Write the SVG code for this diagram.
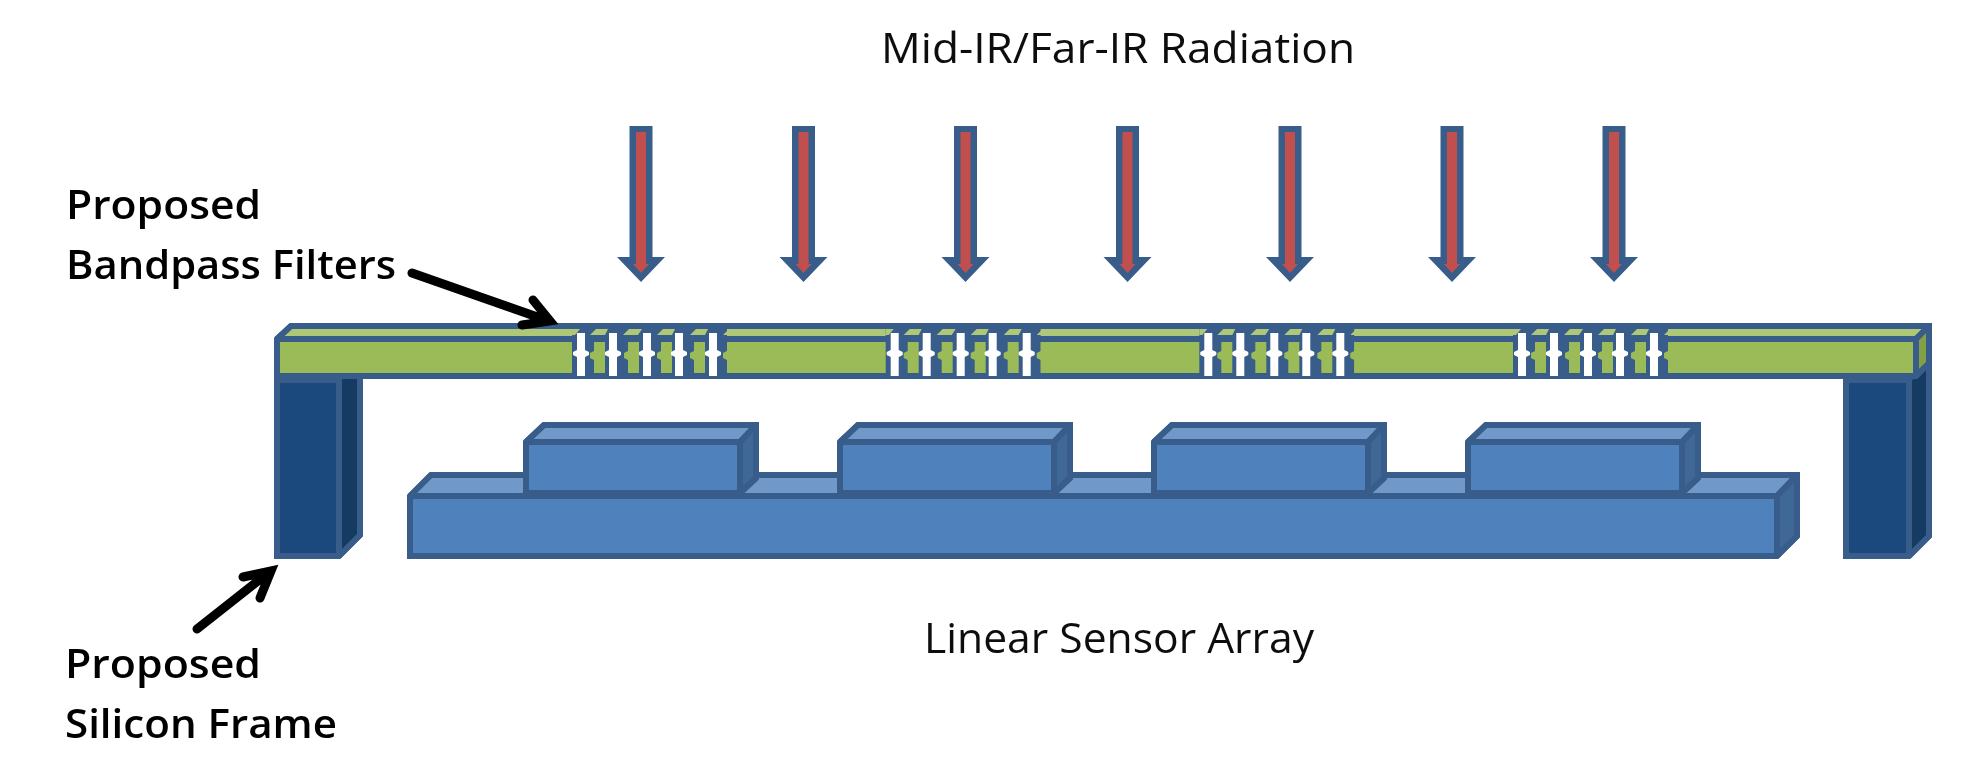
<svg xmlns="http://www.w3.org/2000/svg" xmlns:xlink="http://www.w3.org/1999/xlink" width="1963" height="760" viewBox="0 0 1963 760">
<style>
.s{stroke:#385d8a;stroke-width:6;stroke-linejoin:bevel}
.o{fill:#385d8a;stroke:#385d8a;stroke-width:6;stroke-linejoin:miter}
.g{fill:#9bbb59}.gt{fill:#aec878}.gs{fill:#84a044}
.b{fill:#4f81bd}.bt{fill:#7099ca}.bs{fill:#3f6797}
.f{fill:#1f497d}.fs{fill:#193a64}
.w{fill:#fff}
.soft{filter:url(#soft)}
.l{font-family:"Open Sans","Liberation Sans",sans-serif;font-size:42px;fill:#111}
.h{font-family:"Open Sans","Liberation Sans",sans-serif;font-size:40px;font-weight:600;fill:#000}
.k{stroke:#000;stroke-width:9;fill:none;stroke-linejoin:miter;stroke-linecap:round}
</style>
<defs>
<filter id="soft" x="-2%" y="-2%" width="104%" height="104%"><feGaussianBlur stdDeviation="0.6"/></filter>
<g id="arrow">
<path d="M-11.5 126 H11.5 V257 H24 L0 282 L-24 257 H-11.5 Z" fill="#385d8a"/>
<path d="M-5 132 H5 V264 H8 L0 273 L-8 264 H-5 Z" fill="#c0504d"/>
</g>
<g id="gap">
<rect x="0" y="326" width="155" height="50" fill="#385d8a"/>
<path d="M0 329 H8 L3 335 H0 Z" class="gt"/>
<path d="M151 335 L157 329 H165 V335 Z" class="gt"/>
<path d="M155 342 H162 V373 H155 V360 L151 358 V353 L155 351 Z" class="g"/>
<path d="M18 335 L24 329 H36 L33 335 Z" class="gt"/><path d="M51 335 L57 329 H70 L66 335 Z" class="gt"/><path d="M85 335 L91 329 H103 L100 335 Z" class="gt"/><path d="M118 335 L124 329 H136 L133 335 Z" class="gt"/>
<g class="g">
<path d="M22 342 H33 V373 H22 V360 L18 358 V353 L22 351 Z"/><path d="M56 342 H67 V373 H56 V360 L52 358 V353 L56 351 Z"/><path d="M89 342 H100 V373 H89 V360 L85 358 V353 L89 351 Z"/><path d="M122 342 H133 V373 H122 V360 L118 358 V353 L122 351 Z"/>
</g>
<g class="w">
<path d="M5 333 H13 V350 L17 352 V355 L13 357 V376 H5 V357 L1 355 V352 L5 350 Z"/>
<path d="M37 333 H45 V350 L49 352 V355 L45 357 V376 H37 V357 L33 355 V352 L37 350 Z"/>
<path d="M71 333 H79 V350 L83 352 V355 L79 357 V376 H71 V357 L67 355 V352 L71 350 Z"/>
<path d="M103 333 H111 V350 L115 352 V355 L111 357 V376 H103 V357 L99 355 V352 L103 350 Z"/>
<path d="M137 333 H145 V350 L149 352 V355 L145 357 V376 H137 V357 L133 355 V352 L137 350 Z"/>
</g>
</g>
<g id="block">
<path d="M526 442 L544 425 H756 V478 L740 493 H526 Z" class="o"/>
<path d="M526 442 L544 425 H756 L740 442 Z" class="s bt"/>
<path d="M740 442 L756 425 V478 L740 493 Z" class="s bs"/>
<rect x="526" y="442" width="214" height="51" class="s b"/>
</g>
</defs>
<g class="soft">
<g id="frame-left">
<path d="M277 376 H360 V535 L339 556 H277 Z" class="o"/>
<path d="M339 376 H360 V535 L339 556 Z" class="s fs"/>
<rect x="277" y="380" width="62" height="176" class="s f"/>
</g>
<g id="frame-right">
<path d="M1846 376 H1929 V536 L1909 556 H1846 Z" class="o"/>
<path d="M1909 379 L1929 361 V536 L1909 556 Z" class="s fs"/>
<rect x="1846" y="380" width="63" height="176" class="s f"/>
</g>
<g id="filter-beam">
<path d="M277 339 L291 326 H1929 V363 L1916 376 H277 Z" class="o"/>
<path d="M277 339 L291 326 H1929 L1916 339 Z" class="s gt"/>
<path d="M1916 339 L1929 326 V363 L1916 376 Z" class="s gs"/>
<rect x="277" y="339" width="1639" height="37" class="s g"/>
<use xlink:href="#gap" href="#gap" x="572"/>
<use xlink:href="#gap" href="#gap" x="885.7"/>
<use xlink:href="#gap" href="#gap" x="1199.3"/>
<use xlink:href="#gap" href="#gap" x="1513"/>
</g>
<g id="sensor-array">
<path d="M410 496 L431 475 H1797 V536 L1777 556 H410 Z" class="o"/>
<path d="M410 496 L431 475 H1797 L1777 496 Z" class="s bt"/>
<path d="M1777 496 L1797 475 V536 L1777 556 Z" class="s bs"/>
<rect x="410" y="496" width="1367" height="60" class="s b"/>
<use xlink:href="#block" href="#block" id="pixel-1"/>
<use xlink:href="#block" href="#block" id="pixel-2" x="314"/>
<use xlink:href="#block" href="#block" id="pixel-3" x="628"/>
<use xlink:href="#block" href="#block" id="pixel-4" x="942"/>
</g>
<g id="radiation">
<use xlink:href="#arrow" href="#arrow" x="641"/>
<use xlink:href="#arrow" href="#arrow" x="803.5"/>
<use xlink:href="#arrow" href="#arrow" x="965.5"/>
<use xlink:href="#arrow" href="#arrow" x="1127.5"/>
<use xlink:href="#arrow" href="#arrow" x="1290"/>
<use xlink:href="#arrow" href="#arrow" x="1452"/>
<use xlink:href="#arrow" href="#arrow" x="1614"/>
</g>
<g id="connectors">
<path class="k" d="M412 273 L546 320 M533 300 L550 321 L522 325"/>
<path class="k" d="M197 629 L268 573 M243 577 L271 571 L260 598"/>
</g>
<g id="labels">
<text class="l" x="881" y="63" textLength="474" lengthAdjust="spacingAndGlyphs">Mid-IR/Far-IR Radiation</text>
<text class="l" x="924" y="653" textLength="390" lengthAdjust="spacingAndGlyphs">Linear Sensor Array</text>
<text class="h" x="66" y="219" textLength="195" lengthAdjust="spacingAndGlyphs">Proposed</text>
<text class="h" x="66" y="279" textLength="330" lengthAdjust="spacingAndGlyphs">Bandpass Filters</text>
<text class="h" x="65" y="678" textLength="196" lengthAdjust="spacingAndGlyphs">Proposed</text>
<text class="h" x="65" y="738" textLength="272" lengthAdjust="spacingAndGlyphs">Silicon Frame</text>
</g>
</g>
</svg>
